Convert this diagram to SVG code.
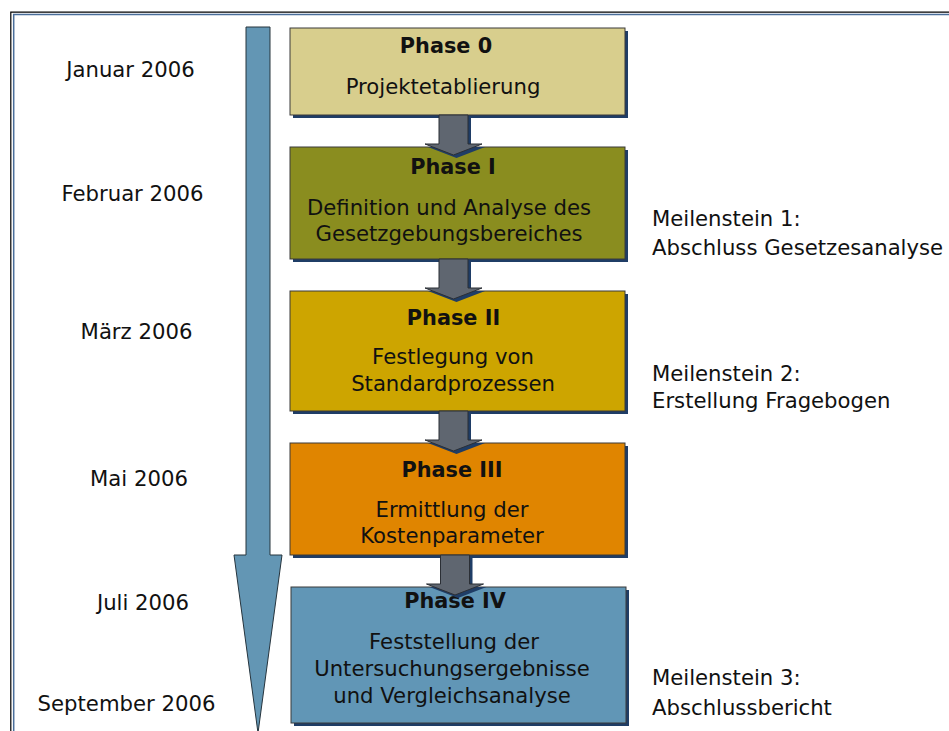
<svg xmlns="http://www.w3.org/2000/svg" width="949" height="731" viewBox="0 0 949 731">
<style>
  text { font-family: "DejaVu Sans", Verdana, sans-serif; font-size: 21.2px; fill: #111; }
  .c { text-anchor: middle; }
  .b { font-weight: bold; font-size: 20.8px; }
  .box { stroke: #3a3a3a; stroke-width: 1; }
  .shadow { fill: #1F3D66; }
  .garrow { fill: #5F6670; stroke: #2b2f35; stroke-width: 1; }
</style>
<defs>
  <polygon id="ga" points="-14.5,0 14.5,0 14.5,29 28.5,29 0,40 -28.5,29 -14.5,29"/>
</defs>
<rect width="949" height="731" fill="#ffffff"/>
<!-- frame -->
<g id="frame" fill="none">
  <path d="M10.8,740 V12.2 H960" stroke="#000" stroke-width="1.2"/>
  <path d="M13.7,740 V14.5 H960" stroke="#4A6E9A" stroke-width="1.5"/>
</g>
<!-- timeline arrow -->
<g id="timeline">
  <polygon points="246,27 270,27 270,555 282,555 258,733 234,555 246,555" fill="#6396B4" stroke="#26343d" stroke-width="1"/>
</g>
<!-- dates -->
<g id="dates">
  <text class="c" x="130.5" y="77">Januar 2006</text>
  <text class="c" x="132.5" y="201">Februar 2006</text>
  <text class="c" x="136.5" y="339">März 2006</text>
  <text class="c" x="139" y="486">Mai 2006</text>
  <text class="c" x="143" y="610">Juli 2006</text>
  <text class="c" x="126.5" y="711">September 2006</text>
</g>
<!-- phases -->
<g id="phase0">
  <rect class="shadow" x="293" y="31" width="335" height="87"/>
  <rect class="box" x="290" y="28" width="335" height="87" fill="#D8CE8D"/>
  <text class="c b" x="446" y="53">Phase 0</text>
  <text class="c" x="443" y="94">Projektetablierung</text>
</g>
<g id="phase1">
  <rect class="shadow" x="293" y="150" width="335" height="112"/>
  <rect class="box" x="290" y="147" width="335" height="112" fill="#8A8D1F"/>
  <text class="c b" x="453" y="174">Phase I</text>
  <text class="c" x="449" y="215">Definition und Analyse des</text>
  <text class="c" x="449" y="241">Gesetzgebungsbereiches</text>
</g>
<g id="phase2">
  <rect class="shadow" x="293" y="294" width="335" height="120"/>
  <rect class="box" x="290" y="291" width="335" height="120" fill="#CDA500"/>
  <text class="c b" x="453.5" y="325">Phase II</text>
  <text class="c" x="453" y="364">Festlegung von</text>
  <text class="c" x="453" y="391">Standardprozessen</text>
</g>
<g id="phase3">
  <rect class="shadow" x="293" y="446" width="335" height="112"/>
  <rect class="box" x="290" y="443" width="335" height="112" fill="#E08500"/>
  <text class="c b" x="452" y="477">Phase III</text>
  <text class="c" x="452" y="517">Ermittlung der</text>
  <text class="c" x="452" y="543">Kostenparameter</text>
</g>
<g id="phase4">
  <rect class="shadow" x="294" y="590" width="335" height="136"/>
  <rect class="box" x="291" y="587" width="335" height="136" fill="#6196B6"/>
  <text class="c b" x="455" y="608">Phase IV</text>
  <text class="c" x="454" y="649">Feststellung der</text>
  <text class="c" x="452" y="676">Untersuchungsergebnisse</text>
  <text class="c" x="452" y="703">und Vergleichsanalyse</text>
</g>
<!-- connectors -->
<g id="connectors">
  <use href="#ga" x="456.5" y="118" class="shadow"/>
  <use href="#ga" x="453.5" y="115" class="garrow"/>
  <use href="#ga" x="456.5" y="262" class="shadow"/>
  <use href="#ga" x="453.5" y="259" class="garrow"/>
  <use href="#ga" x="456.5" y="414" class="shadow"/>
  <use href="#ga" x="453.5" y="411" class="garrow"/>
  <use href="#ga" x="458" y="558" class="shadow"/>
  <use href="#ga" x="455" y="555" class="garrow"/>
</g>
<!-- milestones -->
<g id="milestones">
  <text x="652" y="226">Meilenstein 1:</text>
  <text x="652" y="255">Abschluss Gesetzesanalyse</text>
  <text x="652" y="381">Meilenstein 2:</text>
  <text x="652" y="408">Erstellung Fragebogen</text>
  <text x="652" y="685">Meilenstein 3:</text>
  <text x="652" y="715">Abschlussbericht</text>
</g>
</svg>
